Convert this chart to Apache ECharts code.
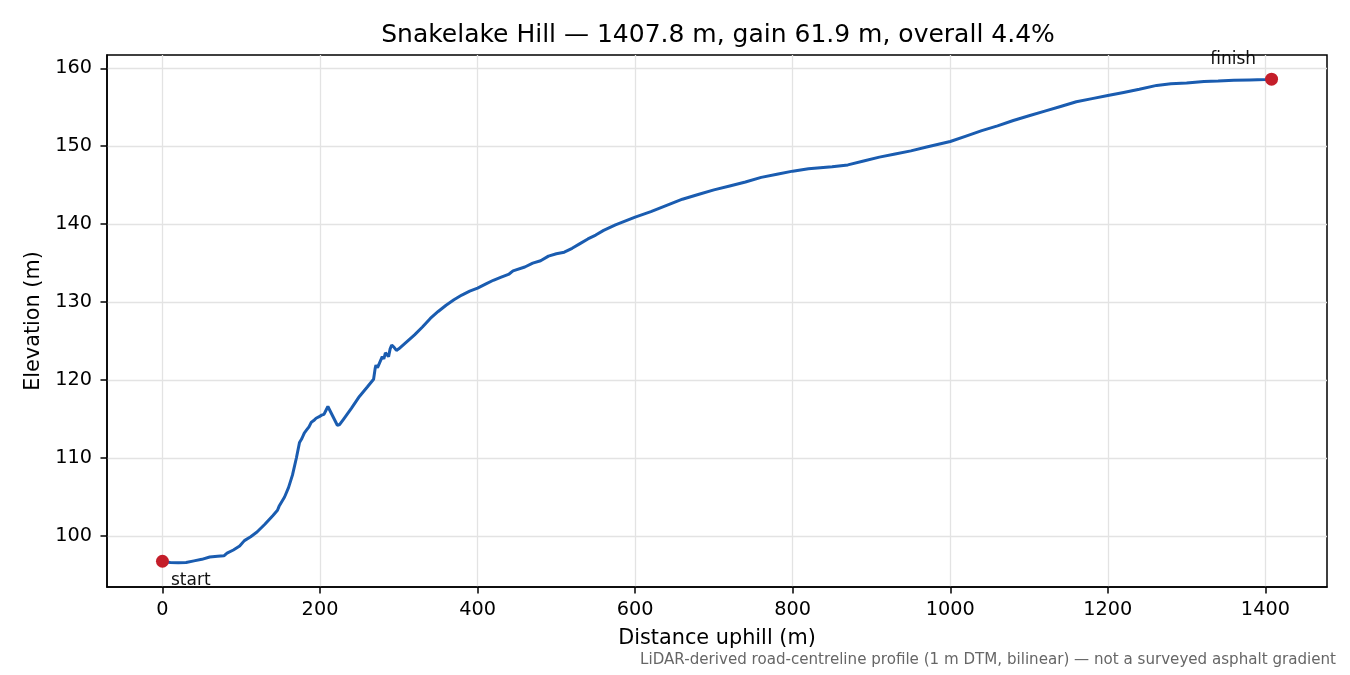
<!DOCTYPE html>
<html>
<head>
<meta charset="utf-8">
<script src="https://cdn.jsdelivr.net/npm/echarts@6/dist/echarts.min.js"></script>
<style>
  html, body { margin: 0; padding: 0; background: #fff; }
  #chart { width: 1350px; height: 675px; }
</style>
</head>
<body>
<div id="chart"></div>
<script>
// Profile (distance uphill in m, elevation in m)
const distance = [
  0, 5, 10, 20, 30, 40, 50, 60, 70, 78, 82, 90, 98, 104, 112, 120, 130, 140, 146, 148,
  155, 160, 165, 170, 174, 177, 180, 183, 186, 189, 192, 195, 197, 199, 202, 205, 207, 210,
  214, 218, 222, 225, 230, 240, 250, 260, 268, 270, 271, 273, 276, 279, 281, 283, 285, 287,
  289, 291, 294, 297, 300, 310, 320, 330, 340, 350, 360, 370, 380, 390, 400, 410, 420, 430,
  440, 445, 460, 470, 480, 490, 500, 510, 520, 530, 540, 550, 560, 575, 600, 620, 640, 660,
  680, 700, 720, 740, 760, 780, 800, 820, 850, 870, 890, 910, 930, 950, 970, 1000, 1020,
  1040, 1060, 1080, 1100, 1120, 1140, 1160, 1180, 1200, 1220, 1240, 1262, 1280, 1300, 1322,
  1340, 1360, 1380, 1400, 1407.8
];
const elevation = [
  96.75, 96.65, 96.6, 96.55, 96.6, 96.8, 97.0, 97.3, 97.4, 97.45, 97.8, 98.2, 98.7, 99.4, 99.9, 100.5, 101.5, 102.6, 103.3, 103.8,
  105.0, 106.2, 107.8, 110.0, 112.0, 112.5, 113.2, 113.6, 114.0, 114.6, 114.8, 115.1, 115.0, 115.3, 115.5, 115.6, 116.0, 116.6,
  115.8, 115.0, 114.2, 114.3, 115.0, 116.4, 117.9, 119.1, 120.1, 121.5, 121.9, 121.6, 122.3, 123.0, 122.7, 123.5, 123.3, 123.0,
  124.0, 124.5, 124.2, 123.8, 124.0, 124.9, 125.8, 126.8, 127.9, 128.8, 129.6, 130.3, 130.9, 131.4, 131.8, 132.3, 132.8, 133.2,
  133.6, 134.0, 134.5, 135.0, 135.3, 135.9, 136.2, 136.4, 136.9, 137.5, 138.1, 138.6, 139.2, 139.9, 140.9, 141.6, 142.4, 143.2,
  143.8, 144.4, 144.9, 145.4, 146.0, 146.4, 146.8, 147.1, 147.35, 147.6, 148.1, 148.6, 149.0, 149.4, 149.9, 150.6, 151.3,
  152.0, 152.6, 153.3, 153.9, 154.5, 155.1, 155.7, 156.1, 156.5, 156.9, 157.3, 157.8, 158.0, 158.1, 158.3,
  158.35, 158.45, 158.5, 158.55, 158.6
];
const xTicks = [0, 200, 400, 600, 800, 1000, 1200, 1400];
const yTicks = [100, 110, 120, 130, 140, 150, 160];
const endpoints = [
  { name: 'start', d: 0, e: 96.75 },
  { name: 'finish', d: 1407.8, e: 158.6 }
];

const titleText = 'Snakelake Hill \u2014 1407.8 m, gain 61.9 m, overall 4.4%';
const noteText = 'LiDAR-derived road-centreline profile (1 m DTM, bilinear) \u2014 not a surveyed asphalt gradient';

const font = 'DejaVu Sans';
const chart = echarts.init(document.getElementById('chart'));

// matplotlib-like 5% margins around the data
const xMin = -70.39, xMax = 1478.19;
const yMin = 93.45, yMax = 161.7;

const axisCommon = {
  type: 'value',
  axisLine: { show: true, onZero: false, lineStyle: { color: '#000', width: 1.5 } },
  splitLine: { show: true, lineStyle: { color: '#e3e3e3', width: 1.3 } },
  nameLocation: 'middle',
  nameTextStyle: { fontFamily: font, fontSize: 20.8, color: '#000' }
};

const tickStyle = values => ({
  show: true, inside: false, length: 6.5, customValues: values,
  lineStyle: { color: '#000', width: 1.5 }
});

const labelStyle = (values, margin) => ({
  customValues: values, margin: margin,
  formatter: v => String(v),
  fontFamily: font, fontSize: 19.3, color: '#000'
});

const option = {
  animation: false,
  backgroundColor: '#fff',
  title: {
    text: titleText,
    left: 713,
    textAlign: 'center',
    top: 18,
    textStyle: { fontFamily: font, fontSize: 25, fontWeight: 'normal', color: '#000' }
  },
  grid: {
    left: 107, right: 23, top: 55, bottom: 88,
    show: true, borderColor: '#000', borderWidth: 1.5, containLabel: false
  },
  xAxis: Object.assign({}, axisCommon, {
    min: xMin, max: xMax,
    splitNumber: 8,
    name: 'Distance uphill (m)',
    nameGap: 41,
    axisTick: tickStyle(xTicks),
    axisLabel: labelStyle(xTicks, 13)
  }),
  yAxis: Object.assign({}, axisCommon, {
    min: yMin, max: yMax,
    splitNumber: 7,
    name: 'Elevation (m)',
    nameGap: 61,
    axisTick: tickStyle(yTicks),
    axisLabel: labelStyle(yTicks, 15)
  }),
  series: [
    {
      type: 'line',
      data: distance.map((d, i) => [d, elevation[i]]),
      showSymbol: false,
      smooth: false,
      lineStyle: { color: '#1a5cb0', width: 3 },
      z: 2
    },
    {
      type: 'scatter',
      symbolSize: 13,
      itemStyle: { color: '#c41e2a', opacity: 1 },
      z: 3,
      data: endpoints.map(p => ({
        value: [p.d, p.e],
        label: p.name === 'start'
          ? { show: true, formatter: p.name, position: [15, 17], align: 'left', verticalAlign: 'top',
              fontFamily: font, fontSize: 17, color: '#111' }
          : { show: true, formatter: p.name, position: [-9, -22], align: 'right', verticalAlign: 'top',
              fontFamily: font, fontSize: 17, color: '#111' }
      }))
    }
  ],
  graphic: [
    {
      type: 'text',
      right: 14,
      top: 653,
      style: { text: noteText, fontFamily: font, fontSize: 15.1, fill: '#666' }
    }
  ]
};

chart.setOption(option);
</script>
</body>
</html>
